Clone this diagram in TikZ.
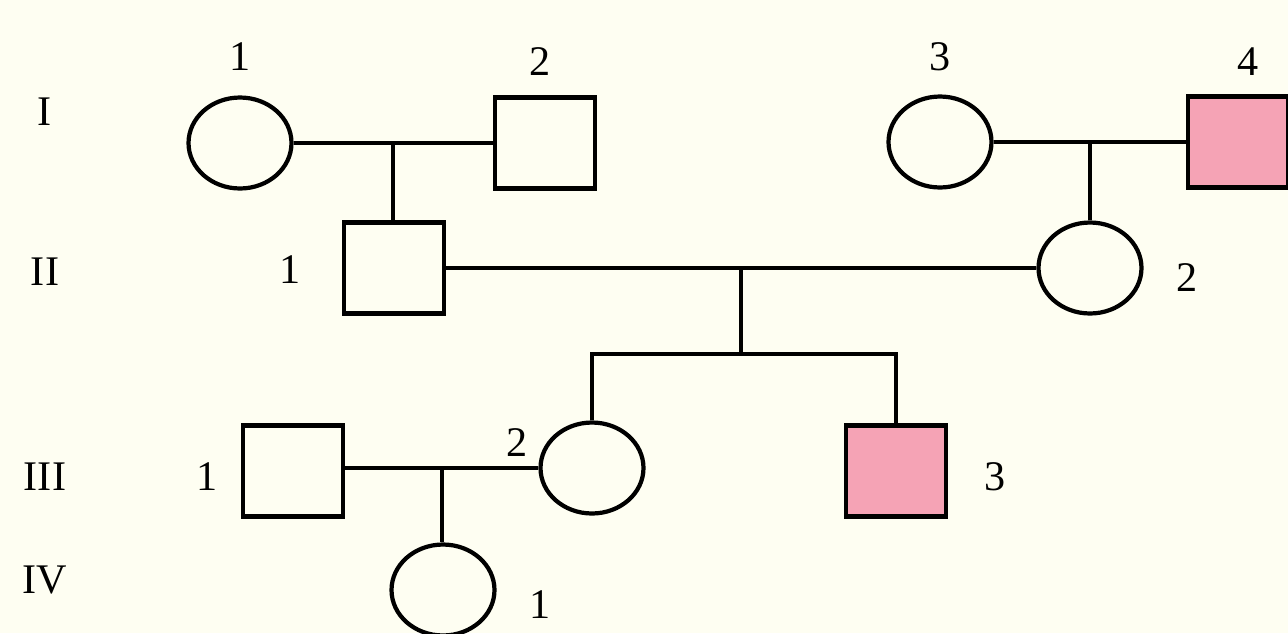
\documentclass[tikz,border=0pt]{standalone}
\usepackage{fontspec}
\setmainfont{Liberation Serif}
\usetikzlibrary{shapes.geometric,calc}
\definecolor{bgcream}{HTML}{FEFEF2}
\definecolor{affpink}{HTML}{F5A3B5}
\begin{document}
\begin{tikzpicture}[x=0.02cm,y=-0.02cm,
  male/.style={draw,line width=2.4pt,rectangle,minimum width=2cm,minimum height=1.82cm,inner sep=0pt,fill=bgcream},
  female/.style={draw,line width=2.4pt,ellipse,minimum width=2.06cm,minimum height=1.82cm,inner sep=0pt,fill=bgcream},
  affected/.style={fill=affpink},
  lbl/.style={font=\fontsize{24}{28}\selectfont,inner sep=0pt},
  link/.style={line width=2.4pt}]
\fill[bgcream] (0,0) rectangle (1288,633);
\useasboundingbox (0,0) rectangle (1288,633);
% generation I
\node[female] (i1) at (240,143) {};
\node[male] (i2) at (545,143) {};
\node[female] (i3) at (940,142) {};
\node[male,affected] (i4) at (1238,142) {};
% generation II
\node[male] (ii1) at (394,268) {};
\node[female] (ii2) at (1090,268) {};
% generation III
\node[male] (iii1) at (293,471) {};
\node[female] (iii2) at (592,468) {};
\node[male,affected] (iii3) at (896,471) {};
% generation IV
\node[female] (iv1) at (443,590) {};
% generation labels
\node[lbl] (gI) at (45,112) {I};
\node[lbl] (gII) at (45,272) {II};
\node[lbl] (gIII) at (45,477) {III};
\node[lbl] (gIV) at (45,580) {IV};
% individual labels
\node[lbl] (l11) at (240,57) {1};
\node[lbl] (l12) at (540,62) {2};
\node[lbl] (l13) at (940,57) {3};
\node[lbl] (l14) at (1248,62) {4};
\node[lbl] (l21) at (290,270) {1};
\node[lbl] (l22) at (1187,278) {2};
\node[lbl] (l31) at (207,477) {1};
\node[lbl] (l32) at (517,443) {2};
\node[lbl] (l33) at (995,477) {3};
\node[lbl] (l41) at (540,605) {1};
% marriages and descent
\draw[link] (i1.east) -- (i2.west);
\coordinate (m1) at ($(i1.east)!0.5!(i2.west)$);
\draw[link] (m1) -- (m1 |- ii1.north);
\draw[link] (i3.east) -- (i4.west);
\coordinate (m2) at ($(i3.east)!0.5!(i4.west)$);
\draw[link] (m2) -- (m2 |- ii2.north);
\draw[link] (ii1.east) -- (ii2.west);
\coordinate (m3) at ($(ii1.east)!0.5!(ii2.west)$);
\coordinate (s3) at (742,354);
\draw[link] (m3) -- (m3 |- s3);
\draw[link] (iii2.north) -- (iii2.north |- s3) -- (iii3.north |- s3) -- (iii3.north);
\coordinate (w4) at (iii1.east |- iii2.west);
\draw[link] (w4) -- (iii2.west);
\coordinate (m4) at ($(w4)!0.5!(iii2.west)$);
\draw[link] (m4) -- (m4 |- iv1.north);
\end{tikzpicture}
\end{document}
